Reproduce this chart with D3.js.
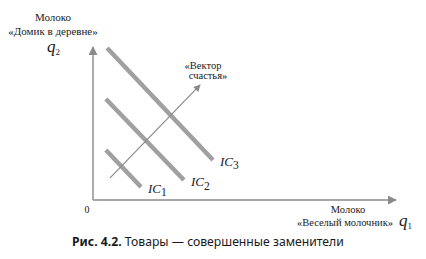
<!DOCTYPE html>
<html>
<head>
<meta charset="utf-8">
<script src="https://cdn.jsdelivr.net/npm/d3@7"></script>
<style>
  body { margin: 0; background: #fff; }
</style>
</head>
<body>
<svg id="chart" width="426" height="259"></svg>
<script>
// indifference curves, in units of q1 / q2
var curveNames = ['IC1', 'IC2', 'IC3'];
var curveStart = [[4.3, 33.3], [4.3, 67.3], [4.7, 101.3]];
var curveEnd = [[16, 8.7], [30.3, 13.3], [40, 26.7]];
var vectorLine = [[5.7, 14.7], [35.7, 76.7]];
var axisMax = [101, 102];

var serif = '"Liberation Serif", "DejaVu Serif", serif';
var svg = d3.select('#chart');
var x = d3.scaleLinear().domain([0, 100]).range([93, 393]);
var y = d3.scaleLinear().domain([0, 100]).range([200, 50]);

var defs = svg.append('defs');
defs.append('marker')
  .attr('id', 'arrow-axis')
  .attr('viewBox', '0 0 10 10')
  .attr('refX', 9).attr('refY', 5)
  .attr('markerWidth', 9).attr('markerHeight', 9)
  .attr('markerUnits', 'userSpaceOnUse')
  .attr('orient', 'auto')
  .append('path').attr('d', 'M0,0L10,5L0,10Z').attr('fill', '#8a8a8a');
defs.append('marker')
  .attr('id', 'arrow-vec')
  .attr('viewBox', '0 0 10 10')
  .attr('refX', 9).attr('refY', 5)
  .attr('markerWidth', 8).attr('markerHeight', 7)
  .attr('markerUnits', 'userSpaceOnUse')
  .attr('orient', 'auto')
  .append('path').attr('d', 'M0,0L10,5L0,10Z').attr('fill', '#8a8a8a');

// axes
svg.append('line')
  .attr('x1', x(0)).attr('y1', y(0))
  .attr('x2', x(axisMax[0])).attr('y2', y(0))
  .attr('stroke', '#8a8a8a').attr('stroke-width', 1.4)
  .attr('marker-end', 'url(#arrow-axis)');
svg.append('line')
  .attr('x1', x(0)).attr('y1', y(0))
  .attr('x2', x(0)).attr('y2', y(axisMax[1]))
  .attr('stroke', '#8a8a8a').attr('stroke-width', 1.4)
  .attr('marker-end', 'url(#arrow-axis)');

// curves
svg.selectAll('line.ic')
  .data(curveNames)
  .enter().append('line')
  .attr('class', 'ic')
  .attr('x1', function(d, i) { return x(curveStart[i][0]); })
  .attr('y1', function(d, i) { return y(curveStart[i][1]); })
  .attr('x2', function(d, i) { return x(curveEnd[i][0]); })
  .attr('y2', function(d, i) { return y(curveEnd[i][1]); })
  .attr('stroke', '#a0a0a0')
  .attr('stroke-width', 4.5);

// vector
svg.append('line')
  .attr('x1', x(vectorLine[0][0])).attr('y1', y(vectorLine[0][1]))
  .attr('x2', x(vectorLine[1][0])).attr('y2', y(vectorLine[1][1]))
  .attr('stroke', '#8a8a8a').attr('stroke-width', 1.2)
  .attr('marker-end', 'url(#arrow-vec)');

function label(tx, ty, size, str, anchor) {
  return svg.append('text').attr('x', tx).attr('y', ty)
    .attr('text-anchor', anchor || 'middle')
    .attr('font-family', serif).attr('font-size', size)
    .attr('fill', '#1a1a1a').text(str);
}

// curve labels
svg.selectAll('text.ic-label')
  .data(curveNames)
  .enter().append('text')
  .attr('class', 'ic-label')
  .attr('x', function(d, i) { return x(curveEnd[i][0]) + 7; })
  .attr('y', function(d, i) { return y(curveEnd[i][1]) + 6; })
  .attr('font-family', serif)
  .attr('font-size', 13)
  .attr('font-style', 'italic')
  .attr('fill', '#1a1a1a')
  .each(function(d) {
    var t = d3.select(this);
    t.append('tspan').text('IC');
    t.append('tspan').attr('dy', 3.5).attr('font-size', 11.5).attr('font-style', 'normal').text(d.slice(2));
  });

// vector label
label(203, 69, 10.5, '«Вектор');
label(208, 79, 10.5, 'счастья»');

// axis labels
label(53, 21, 11, 'Молоко');
label(53, 35, 11, '«Домик в деревне»');
var q2 = label(47, 52, 17, 'q', 'start').attr('font-style', 'italic');
q2.append('tspan').attr('dy', 3).attr('font-size', 9).attr('font-style', 'normal').text('2');

label(348, 213, 10.5, 'Молоко');
label(345, 226, 10.5, '«Веселый молочник»');
var q1 = label(399, 226, 17, 'q', 'start').attr('font-style', 'italic');
q1.append('tspan').attr('dy', 3).attr('font-size', 9).attr('font-style', 'normal').text('1');

label(87, 213, 10, '0');

// caption
var cap = svg.append('text').attr('x', 72).attr('y', 246)
  .attr('font-family', '"Noto Sans", Roboto, sans-serif')
  .attr('font-size', 12.2).attr('fill', '#1a1a1a');
cap.append('tspan').attr('font-weight', 'bold').text('Рис. 4.2.');
cap.append('tspan').text(' Товары — совершенные заменители');
</script>
</body>
</html>
